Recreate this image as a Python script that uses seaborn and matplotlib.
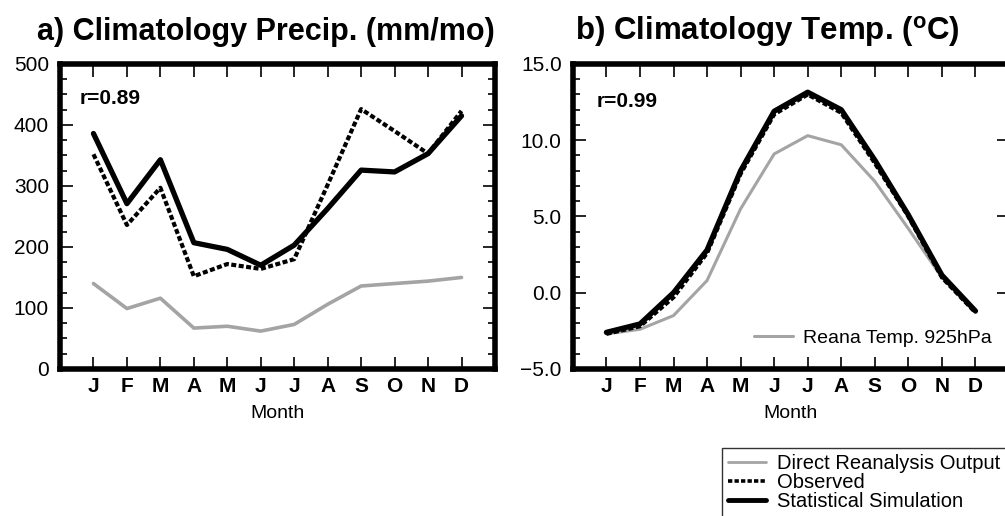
import pandas as pd
import seaborn as sns
import matplotlib.pyplot as plt
from matplotlib.ticker import MultipleLocator
from matplotlib.lines import Line2D

# data
months = ['J', 'F', 'M', 'A', 'M', 'J', 'J', 'A', 'S', 'O', 'N', 'D']
month_num = list(range(1, 13))

precip_reana = [140, 99, 116, 67, 70, 62, 73, 106, 136, 140, 144, 150]
precip_obs = [352, 236, 297, 152, 172, 164, 180, 302, 426, 390, 353, 423]
precip_sim = [386, 271, 343, 207, 196, 170, 203, 263, 326, 323, 353, 415]

temp_reana = [-2.7, -2.4, -1.5, 0.8, 5.5, 9.1, 10.3, 9.7, 7.3, 4.2, 1.0, -1.3]
temp_obs = [-2.7, -2.2, -0.3, 2.6, 7.8, 11.7, 13.0, 11.8, 8.5, 5.0, 1.0, -1.3]
temp_sim = [-2.6, -2.05, 0.0, 2.8, 8.0, 11.9, 13.15, 12.0, 8.7, 5.1, 1.15, -1.2]

sns.set_theme(style='ticks', rc={'axes.edgecolor': 'black', 'text.color': 'black',
                                 'axes.labelcolor': 'black', 'xtick.color': 'black',
                                 'ytick.color': 'black'})
plt.rcParams['font.family'] = ['Liberation Sans', 'DejaVu Sans']
plt.rcParams['mathtext.fontset'] = 'custom'
plt.rcParams['mathtext.rm'] = 'Liberation Sans:bold'

fig = plt.figure(figsize=(10.05, 5.16), dpi=100)
ax1 = fig.add_axes([0.0597, 0.285, 0.4328, 0.591])
ax2 = fig.add_axes([0.570, 0.285, 0.434, 0.591])

df_p = pd.DataFrame({'month': month_num, 'reana': precip_reana,
                     'obs': precip_obs, 'sim': precip_sim})
df_t = pd.DataFrame({'month': month_num, 'reana': temp_reana,
                     'obs': temp_obs, 'sim': temp_sim})

gray = '#a4a4a4'
for ax, df, glw in [(ax1, df_p, 2.6), (ax2, df_t, 2.2)]:
    sns.lineplot(data=df, x='month', y='reana', ax=ax, color=gray, lw=glw)
    sns.lineplot(data=df, x='month', y='obs', ax=ax, color='black', lw=3,
                 linestyle=(0, (1.2, 0.6)))
    sns.lineplot(data=df, x='month', y='sim', ax=ax, color='black', lw=3.8)
    ax.set_xlim(0, 13)
    ax.set_xticks(month_num)
    ax.set_xticklabels(months, fontsize=14, fontweight='bold')
    ax.set_xlabel('Month', fontsize=14, labelpad=6)
    ax.set_ylabel('')
    for s in ax.spines.values():
        s.set_linewidth(4)
    ax.tick_params(which='both', direction='in', top=True, right=True,
                   width=1.2, labelsize=15)
    ax.tick_params(which='major', length=9, pad=8)
    ax.tick_params(which='minor', length=5)
    ax.tick_params(axis='x', which='minor', bottom=False, top=False)
    ax.tick_params(axis='x', pad=6)

ax1.set_ylim(0, 500)
ax1.yaxis.set_major_locator(MultipleLocator(100))
ax1.yaxis.set_minor_locator(MultipleLocator(25))
ax1.set_title('a) Climatology Precip. (mm/mo)', fontsize=22, fontweight='bold',
              pad=17, x=0.474)
ax1.text(0.045, 0.87, 'r=0.89', transform=ax1.transAxes, fontsize=15,
         fontweight='bold')

ax2.set_ylim(-5, 15)
ax2.yaxis.set_major_locator(MultipleLocator(5))
ax2.yaxis.set_minor_locator(MultipleLocator(1))
ax2.set_yticklabels([f'{v:.1f}'.replace('-', '\u2212') for v in ax2.get_yticks()])
ax2.tick_params(axis='y', which='minor', right=False)
ax2.set_title('b) Climatology Temp. ($^{\\mathregular{o}}$C)', fontsize=22.5,
              fontweight='bold', pad=17, x=0.447)
ax2.text(0.055, 0.86, 'r=0.99', transform=ax2.transAxes, fontsize=15,
         fontweight='bold')
ax2.legend([Line2D([], [], color=gray, lw=2.2)], ['Reana Temp. 925hPa'],
           loc='lower right', bbox_to_anchor=(1.0, 0.015), frameon=False,
           fontsize=14, handlelength=2.0, handletextpad=0.5)

handles = [Line2D([], [], color=gray, lw=2.0),
           Line2D([], [], color='black', lw=2.6, linestyle=(0, (1.2, 0.6))),
           Line2D([], [], color='black', lw=3.5)]
leg = fig.legend(handles, ['Direct Reanalysis Output', 'Observed',
                           'Statistical Simulation'],
                 loc='upper left', bbox_to_anchor=(0.718, 0.132),
                 fontsize=14.5, frameon=True, fancybox=False,
                 handlelength=1.9, handletextpad=0.55, labelspacing=0.0,
                 borderpad=0.3, borderaxespad=0)
leg.get_frame().set_edgecolor('black')
leg.get_frame().set_linewidth(1)

plt.savefig('out.png', dpi=100)
